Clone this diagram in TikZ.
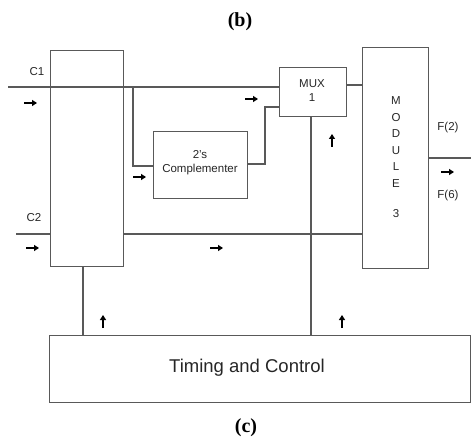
\documentclass[tikz,border=0pt]{standalone}
\usepackage{fontspec}
\setmainfont{Liberation Serif}
\setsansfont{Liberation Sans}
\usetikzlibrary{arrows.meta}
\definecolor{ln}{gray}{0.35}
\begin{document}
\begin{tikzpicture}[x=1pt,y=-1pt,
  box/.style={draw=ln, line width=1.1pt, rectangle, inner sep=0pt, anchor=north west},
  wire/.style={draw=ln, line width=1.1pt},
  lbl/.style={font=\sffamily\fontsize{11.5}{13}\selectfont, text=black!85, inner sep=0pt},
  mk/.style={line width=1.3pt, -{Triangle[length=5pt,width=6pt]}},
  captxt/.style={font=\bfseries\fontsize{20}{22}\selectfont, inner sep=0pt}]
\useasboundingbox (0,0) rectangle (471,446);
% boxes
\node[box, minimum width=73pt, minimum height=216pt] (L) at (50,50) {};
\node[box, minimum width=94pt, minimum height=67pt] (C) at (153,131) {};
\node[lbl, align=center] at (200,163) {2's\\[1pt]Complementer};
\node[box, minimum width=67pt, minimum height=49pt] (M) at (279,67) {};
\node[lbl, align=center] at (312,91) {MUX\\[1pt]1};
\node[box, minimum width=66pt, minimum height=221pt] (D) at (362,47) {};
\node[lbl, align=center] at (396,142) {M\\[3.5pt]O\\[3.5pt]D\\[3.5pt]U\\[3.5pt]L\\[3.5pt]E};
\node[lbl] at (396,214) {3};
\node[box, minimum width=421pt, minimum height=67pt] (T) at (49,335) {};
\node[font=\sffamily\fontsize{18.5}{20}\selectfont, text=black!85] at (247,368) {Timing and Control};
% captions
\node[captxt] (b) at (240,22) {(b)};
\node[captxt] (c) at (246,428) {(c)};
% free ends
\coordinate (c1in) at (8,87);
\coordinate (c2in) at (16,234);
\coordinate (fout) at (471,158);
\coordinate (br) at (133,87);
\coordinate (jx) at (265,164);
% wires
\draw[wire] (c1in) -- (c1in -| L.east);
\draw[wire] (c1in -| L.east) -- (c1in -| M.west);
\draw[wire] (br) -- (br |- 0,166) -- (C.west |- 0,166);
\draw[wire] (C.east |- jx) -- (jx) -- (jx |- 0,107) -- (M.west |- 0,107);
\draw[wire] (M.east |- 0,85) -- (D.west |- 0,85);
\draw[wire] (c2in) -- (c2in -| L.west);
\draw[wire] (c2in -| L.east) -- (c2in -| D.west);
\draw[wire] (D.east |- fout) -- (fout);
\draw[wire] (M.south -| 311,0) -- (T.north -| 311,0);
\draw[wire] (L.south -| 83,0) -- (T.north -| 83,0);
% labels
\node[lbl] at (37,72) {C1};
\node[lbl] at (34,218) {C2};
\node[lbl] at (448,128) {F(2)};
\node[lbl] at (448,196) {F(6)};
% direction markers
\draw[mk] (24,103) -- (37,103);
\draw[mk] (26,248) -- (39,248);
\draw[mk] (133,177) -- (146,177);
\draw[mk] (245,99) -- (258,99);
\draw[mk] (210,248) -- (223,248);
\draw[mk] (441,172) -- (454,172);
\draw[mk] (332,147) -- (332,134);
\draw[mk] (103,328) -- (103,315);
\draw[mk] (342,328) -- (342,315);
\end{tikzpicture}
\end{document}
